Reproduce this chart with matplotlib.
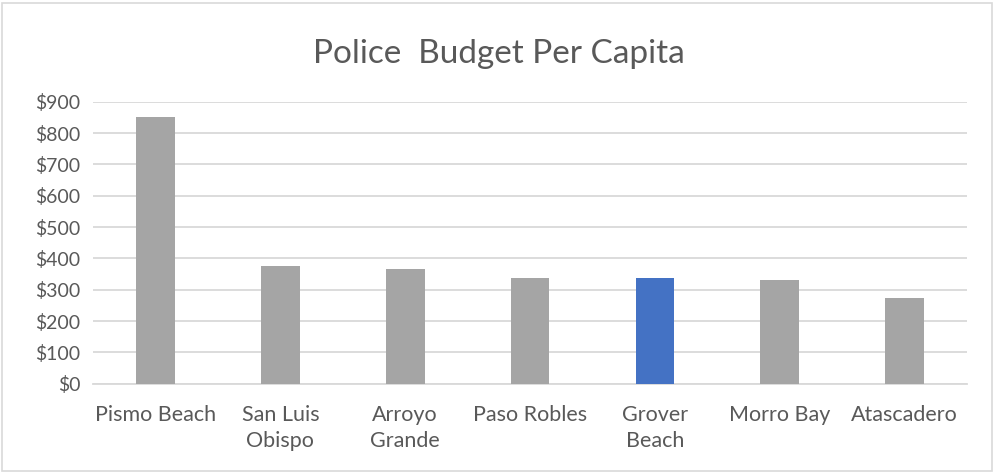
import matplotlib.pyplot as plt
from matplotlib.patches import Rectangle
from matplotlib.ticker import FuncFormatter, MultipleLocator

cities = ["Pismo Beach", "San Luis\nObispo", "Arroyo\nGrande", "Paso Robles",
          "Grover\nBeach", "Morro Bay", "Atascadero"]
budget_per_capita = [850, 375, 367, 337, 338, 331, 275]
highlight = "Grover\nBeach"

GRAY = "#A5A5A5"
BLUE = "#4472C4"
TEXT = "#595959"
GRID = "#D9D9D9"

plt.rcParams["font.family"] = ["Lato", "DejaVu Sans"]

fig = plt.figure(figsize=(9.97, 4.75), dpi=100)
ax = fig.add_axes([0.0933, 0.1922, 0.8767, 0.5937])

colors = [BLUE if c == highlight else GRAY for c in cities]
x = range(len(cities))
ax.bar(x, budget_per_capita, width=0.31, color=colors, zorder=3)

ax.set_xlim(-0.5, len(cities) - 0.5)
ax.set_ylim(0, 900)
ax.yaxis.set_major_locator(MultipleLocator(100))
ax.yaxis.set_major_formatter(FuncFormatter(lambda v, p: f"${v:,.0f}"))
ax.set_xticks(list(x))
ax.set_xticklabels(cities, linespacing=1.42, va="top")

ax.grid(axis="y", color=GRID, linewidth=1.3, zorder=0)
for s in ["top", "right", "left"]:
    ax.spines[s].set_visible(False)
ax.spines["bottom"].set_color(GRID)
ax.spines["bottom"].set_linewidth(1.3)
ax.tick_params(length=0, colors=TEXT)
ax.tick_params(axis="x", pad=15, labelsize=15.5)
ax.tick_params(axis="y", pad=9, labelsize=14)

fig.text(0.5, 0.886, "Police  Budget Per Capita", ha="center", va="center",
         fontsize=24, color=TEXT)

# chart area border
fig.add_artist(Rectangle((0.002, 0.008), 0.993, 0.985, transform=fig.transFigure,
                         fill=False, edgecolor=GRID, linewidth=1.2))

fig.savefig("out.png", dpi=100)
